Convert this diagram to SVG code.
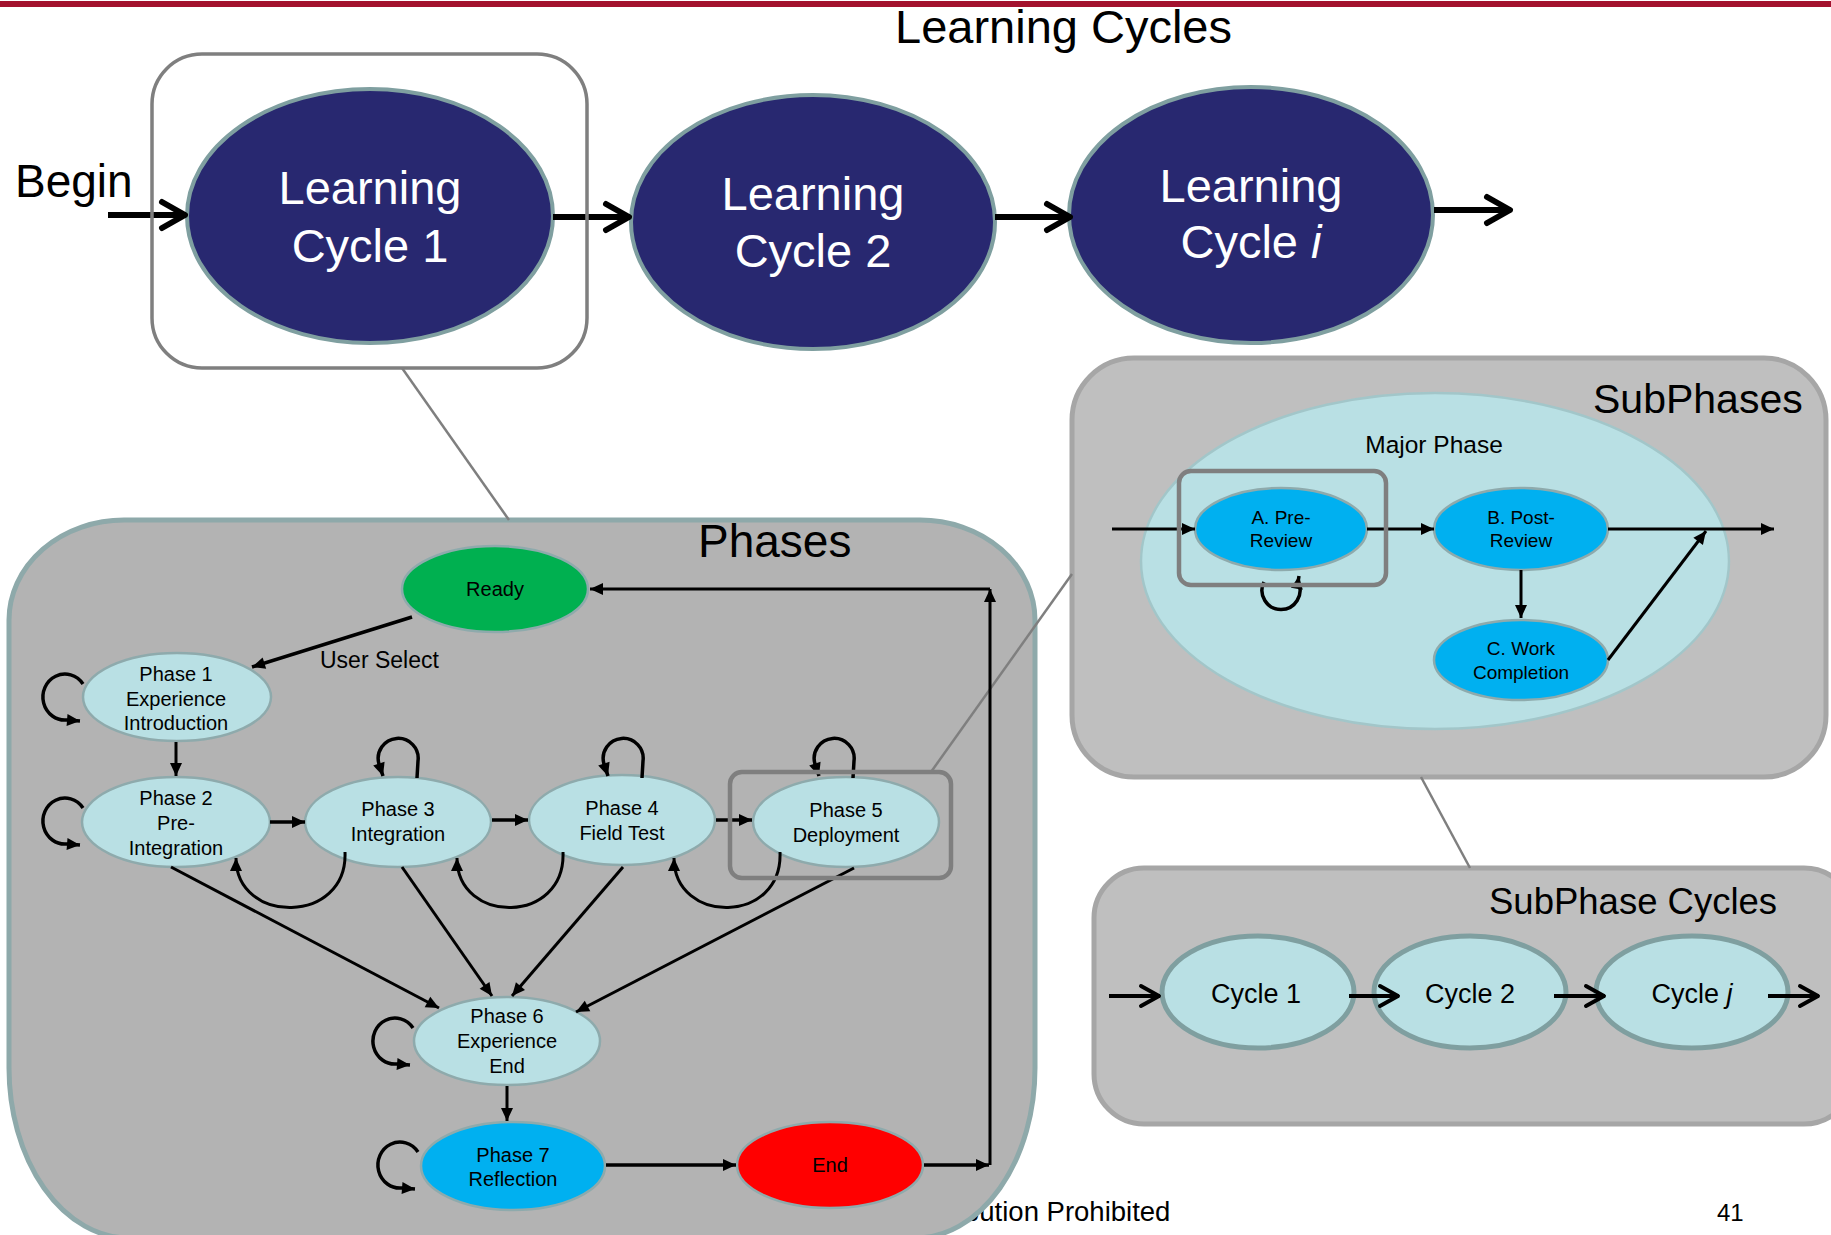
<svg xmlns="http://www.w3.org/2000/svg" width="1831" height="1235" viewBox="0 0 1831 1235">
<style>
text{font-family:"Liberation Sans",Arial,sans-serif;fill:#000}
.lc{fill:#282870;stroke:#7F9FA0;stroke-width:4}
.lct{fill:#fff;font-size:47px;text-anchor:middle}
.ph{fill:#B9E0E4;stroke:#8EAAAC;stroke-width:2.5}
.pt{font-size:20px;text-anchor:middle}
.st{font-size:19px;text-anchor:middle}
.cy{fill:#B9E0E4;stroke:#7F9FA0;stroke-width:5}
.ct{font-size:27px;text-anchor:middle}
.hl{fill:none;stroke:#7F7F7F;stroke-width:4.5}
.link{stroke:#7F7F7F;stroke-width:2.5;fill:none}
.big{stroke:#000;stroke-width:6;fill:none;marker-end:url(#chevL)}
.sm{stroke:#000;stroke-width:4;fill:none;marker-end:url(#chevS)}
.a{stroke:#000;stroke-width:3;fill:none;marker-end:url(#tri)}
.lp{stroke-width:3.5}
.box{stroke-width:5}
</style>
<defs>
<marker id="chevL" markerUnits="userSpaceOnUse" markerWidth="40" markerHeight="40" viewBox="-30 -20 40 40" refX="0" refY="0" orient="auto" overflow="visible">
<path d="M-24,-13 L-1,0 L-24,13" fill="none" stroke="#000" stroke-width="6" stroke-linejoin="round" stroke-linecap="round"/>
</marker>
<marker id="chevS" markerUnits="userSpaceOnUse" markerWidth="30" markerHeight="30" viewBox="-25 -15 30 30" refX="0" refY="0" orient="auto" overflow="visible">
<path d="M-19,-10 L-1,0 L-19,10" fill="none" stroke="#000" stroke-width="4" stroke-linejoin="round" stroke-linecap="round"/>
</marker>
<marker id="tri" markerUnits="userSpaceOnUse" markerWidth="20" markerHeight="20" viewBox="-15 -10 20 20" refX="0" refY="0" orient="auto" overflow="visible">
<path d="M-13,-6 L0,0 L-13,6 z" fill="#000"/>
</marker>
</defs>

<rect id="topbar" x="0" y="1" width="1831" height="6" fill="#A3122E"/>
<text id="title" x="895" y="43" font-size="47">Learning Cycles</text>
<g id="footer">
<text x="964" y="1221" font-size="27.5">bution Prohibited</text>
<text x="1717" y="1221" font-size="24">41</text>
</g>

<g id="phases-panel">
<path d="M124 520 H920 A115 100 0 0 1 1035 620 V1068 A120 170 0 0 1 915 1238 H129 A120 170 0 0 1 9 1068 V620 A115 100 0 0 1 124 520 Z" fill="#B3B3B3" stroke="#8EA9AA" class="box"/>
<text x="698" y="557" font-size="46">Phases</text>
</g>
<g id="subphases-panel">
<rect x="1072" y="358" width="754" height="419" rx="62" fill="#BFBFBF" stroke="#A6A6A6" class="box"/>
<text x="1593" y="413" font-size="41">SubPhases</text>
</g>
<g id="major-phase">
<ellipse cx="1435" cy="561" rx="294" ry="168" fill="#B9E0E4" stroke="#A2C6C9" stroke-width="2.5"/>
<text x="1434" y="453" font-size="24.5" text-anchor="middle">Major Phase</text>
</g>
<g id="subphase-cycles-panel">
<rect x="1094" y="868" width="760" height="256" rx="50" fill="#BFBFBF" stroke="#A6A6A6" class="box"/>
<text x="1489" y="914" font-size="36.5">SubPhase Cycles</text>
</g>

<g id="zoom-links">
<path class="link" d="M402 368 L509 520"/>
<path class="link" d="M931 772 L1072 574"/>
<path class="link" d="M1421 777 L1470 868"/>
</g>

<text id="begin" x="15" y="197" font-size="46">Begin</text>

<g id="lc1"><ellipse class="lc" cx="370" cy="216" rx="183" ry="127"/><text class="lct" x="370" y="204">Learning</text><text class="lct" x="370" y="262">Cycle 1</text></g>
<g id="lc2"><ellipse class="lc" cx="813" cy="222" rx="182" ry="127"/><text class="lct" x="813" y="210">Learning</text><text class="lct" x="813" y="267">Cycle 2</text></g>
<g id="lci"><ellipse class="lc" cx="1251" cy="215" rx="182" ry="128"/><text class="lct" x="1251" y="202">Learning</text><text class="lct" x="1251" y="258">Cycle <tspan font-style="italic">i</tspan></text></g>

<g id="ready"><ellipse cx="495" cy="589" rx="93" ry="43" fill="#00B050" stroke="#8EAAAC" stroke-width="2.5"/><text class="pt" x="495" y="596">Ready</text></g>
<g id="phase1"><ellipse class="ph" cx="177" cy="697" rx="94" ry="44"/><text class="pt" x="176" y="681">Phase 1</text><text class="pt" x="176" y="706">Experience</text><text class="pt" x="176" y="730">Introduction</text></g>
<g id="phase2"><ellipse class="ph" cx="176" cy="822" rx="94" ry="45"/><text class="pt" x="176" y="805">Phase 2</text><text class="pt" x="176" y="830">Pre-</text><text class="pt" x="176" y="855">Integration</text></g>
<g id="phase3"><ellipse class="ph" cx="398" cy="822" rx="93" ry="45"/><text class="pt" x="398" y="816">Phase 3</text><text class="pt" x="398" y="841">Integration</text></g>
<g id="phase4"><ellipse class="ph" cx="622" cy="820" rx="93" ry="45"/><text class="pt" x="622" y="815">Phase 4</text><text class="pt" x="622" y="840">Field Test</text></g>
<g id="phase5"><ellipse class="ph" cx="846" cy="822" rx="93" ry="45"/><text class="pt" x="846" y="817">Phase 5</text><text class="pt" x="846" y="842">Deployment</text></g>
<g id="phase6"><ellipse class="ph" cx="507" cy="1041" rx="93" ry="44"/><text class="pt" x="507" y="1023">Phase 6</text><text class="pt" x="507" y="1048">Experience</text><text class="pt" x="507" y="1073">End</text></g>
<g id="phase7"><ellipse cx="513" cy="1166" rx="92" ry="44" fill="#00B0F0" stroke="#8EAAAC" stroke-width="2.5"/><text class="pt" x="513" y="1162">Phase 7</text><text class="pt" x="513" y="1186">Reflection</text></g>
<g id="end"><ellipse cx="830" cy="1165" rx="93" ry="43" fill="#FF0000" stroke="#8EAAAC" stroke-width="2.5"/><text class="pt" x="830" y="1172">End</text></g>
<text id="user-select" x="320" y="668" font-size="23">User Select</text>

<g id="sub-a"><ellipse cx="1281" cy="529" rx="86" ry="41" fill="#00B0F0" stroke="#8EAAAC" stroke-width="2.5"/><text class="st" x="1281" y="524">A. Pre-</text><text class="st" x="1281" y="547">Review</text></g>
<g id="sub-b"><ellipse cx="1521" cy="529" rx="87" ry="41" fill="#00B0F0" stroke="#8EAAAC" stroke-width="2.5"/><text class="st" x="1521" y="524">B. Post-</text><text class="st" x="1521" y="547">Review</text></g>
<g id="sub-c"><ellipse cx="1521" cy="660" rx="87" ry="40" fill="#00B0F0" stroke="#8EAAAC" stroke-width="2.5"/><text class="st" x="1521" y="655">C. Work</text><text class="st" x="1521" y="679">Completion</text></g>

<g id="cycle1"><ellipse class="cy" cx="1258" cy="992" rx="96" ry="56"/><text class="ct" x="1256" y="1003">Cycle 1</text></g>
<g id="cycle2"><ellipse class="cy" cx="1470" cy="992" rx="96" ry="56"/><text class="ct" x="1470" y="1003">Cycle 2</text></g>
<g id="cyclej"><ellipse class="cy" cx="1692" cy="992" rx="96" ry="56"/><text class="ct" x="1692" y="1003">Cycle <tspan font-style="italic">j</tspan></text></g>

<g id="connectors">
<path class="big" d="M108 215 L186 215"/>
<path class="big" d="M553 217 L630 217"/>
<path class="big" d="M995 217 L1071 217"/>
<path class="big" d="M1434 210 L1511 210"/>

<path class="a lp" d="M412 617 L252 667"/>
<path class="a" d="M176 742 L176 776"/>
<path class="a lp" d="M270 822 L305 822"/>
<path class="a lp" d="M492 820 L528 820"/>
<path class="a lp" d="M716 820 L752 820"/>
<path class="a" d="M345 852 C348 925 236 925 236 858"/>
<path class="a" d="M563 852 C566 925 457 925 457 858"/>
<path class="a" d="M780 852 C783 925 674 925 674 858"/>
<path class="a" d="M171 867 L439 1008"/>
<path class="a" d="M402 867 L492 996"/>
<path class="a" d="M623 867 L512 996"/>
<path class="a" d="M854 868 L576 1012"/>
<path class="a" d="M507 1086 L507 1121"/>
<path class="a lp" d="M606 1165 L736 1165"/>
<path class="a lp" d="M924 1165 L989 1165"/>
<path class="a" d="M990 1165 L990 589"/>
<path class="a" d="M990 589 L590 589"/>

<path class="a lp" d="M83 684 A22 23 0 1 0 67 720 L80 721"/>
<path class="a lp" d="M83 808 A22 23 0 1 0 67 844 L80 845"/>
<path class="a lp" d="M413 1028 A22 23 0 1 0 397 1064 L410 1065"/>
<path class="a lp" d="M418 1152 A22 23 0 1 0 402 1188 L415 1189"/>
<path class="a lp" d="M417 778 L418 761 A20 20 0 1 0 379 764 L383 776"/>
<path class="a lp" d="M642 778 L643 761 A20 20 0 1 0 604 764 L608 776"/>
<path class="a lp" d="M853 778 L854 761 A20 20 0 1 0 815 764 L819 776"/>

<path class="a" d="M1112 529 L1195 529"/>
<path class="a" d="M1367 529 L1434 529"/>
<path class="a" d="M1608 529 L1774 529"/>
<path class="a" d="M1521 570 L1521 618"/>
<path class="a" d="M1608 660 L1706 531"/>
<path class="a lp" d="M1264 582 A19 19 0 1 0 1298 582 L1299 576"/>

<path class="sm" d="M1109 996 L1160 996"/>
<path class="sm" d="M1349 996 L1399 996"/>
<path class="sm" d="M1554 996 L1605 996"/>
<path class="sm" d="M1768 996 L1819 996"/>
</g>

<g id="highlights">
<rect id="lc1-box" x="152" y="54" width="435" height="314" rx="50" fill="none" stroke="#7F7F7F" stroke-width="3.5"/>
<rect id="phase5-box" class="hl" x="730" y="772" width="221" height="106" rx="12"/>
<rect id="suba-box" class="hl" x="1179" y="471" width="207" height="114" rx="12"/>
</g>
</svg>
